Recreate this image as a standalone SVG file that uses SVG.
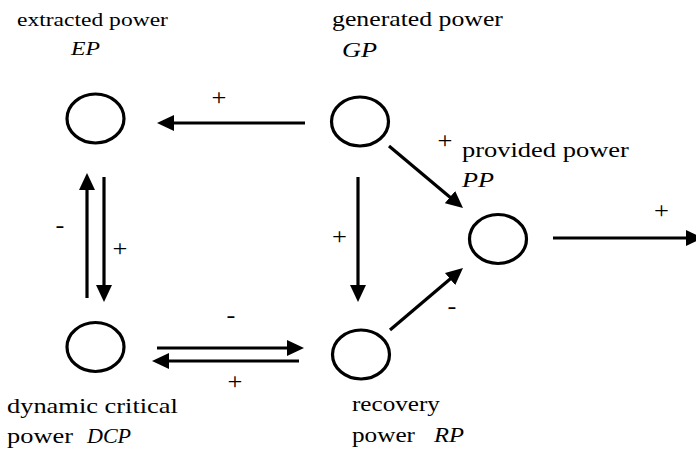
<svg xmlns="http://www.w3.org/2000/svg" width="696" height="450" viewBox="0 0 696 450">
<style>
  .node ellipse { fill: none; stroke: #000; stroke-width: 3.2; }
  text { font-family: "Liberation Serif", "Times New Roman", serif; fill: #000; }
  .it { font-style: italic; }
  .sign { font-size: 24px; text-anchor: middle; }
  #connectors line { stroke: #000; stroke-width: 3.2; marker-end: url(#ah); }
</style>
<defs>
  <marker id="ah" markerUnits="userSpaceOnUse" markerWidth="17" markerHeight="16" viewBox="0 0 17 16" refX="9" refY="8" orient="auto">
    <path d="M0,0 L17,8 L0,16 z" fill="#000"/>
  </marker>
</defs>
<rect width="696" height="450" fill="#fff"/>

<g id="EP" class="node">
  <ellipse cx="95.5" cy="118.5" rx="28.5" ry="24.5"/>
  <text transform="translate(17,26) scale(1.207,1)" font-size="19.5">extracted power</text>
  <text class="it" transform="translate(71,55) scale(1.217,1)" font-size="19.5">EP</text>
</g>
<g id="GP" class="node">
  <ellipse cx="360" cy="121.5" rx="28.5" ry="24.5"/>
  <text transform="translate(332,26) scale(1.227,1)" font-size="21">generated power</text>
  <text class="it" transform="translate(342,57) scale(1.25,1)" font-size="21">GP</text>
</g>
<g id="PP" class="node">
  <ellipse cx="498" cy="239" rx="28.5" ry="24.5"/>
  <text transform="translate(462,157) scale(1.204,1)" font-size="22">provided power</text>
  <text class="it" transform="translate(462,187) scale(1.19,1)" font-size="22">PP</text>
</g>
<g id="DCP" class="node">
  <ellipse cx="95.5" cy="347" rx="28.5" ry="24.5"/>
  <text transform="translate(7,413) scale(1.258,1)" font-size="21">dynamic critical</text>
  <text transform="translate(7,443) scale(1.258,1)" font-size="21">power</text>
  <text class="it" transform="translate(87,443) scale(1.05,1)" font-size="21">DCP</text>
</g>
<g id="RP" class="node">
  <ellipse cx="361" cy="354.5" rx="28.5" ry="24.5"/>
  <text transform="translate(352,411) scale(1.198,1)" font-size="21">recovery</text>
  <text transform="translate(352,442) scale(1.2,1)" font-size="21">power</text>
  <text class="it" transform="translate(434,442) scale(1.17,1)" font-size="21">RP</text>
</g>

<g id="connectors">
  <line x1="305" y1="123" x2="165" y2="123"/>
  <line x1="87" y1="298" x2="87" y2="181"/>
  <line x1="104" y1="177" x2="104" y2="294"/>
  <line x1="157" y1="348" x2="296" y2="348"/>
  <line x1="299" y1="361" x2="160" y2="361"/>
  <line x1="358" y1="177" x2="358" y2="294"/>
  <line x1="389" y1="146" x2="456.9" y2="202.9"/>
  <line x1="390" y1="330" x2="456.9" y2="273.2"/>
  <line x1="553" y1="238" x2="695" y2="238"/>
  <text class="sign" transform="translate(219,104.5) scale(1.1,1)">+</text>
  <text class="sign" transform="translate(60,233.4) scale(1.1,1)">-</text>
  <text class="sign" transform="translate(120,255.5) scale(1.1,1)">+</text>
  <text class="sign" transform="translate(231,323.4) scale(1.1,1)">-</text>
  <text class="sign" transform="translate(235,389) scale(1.1,1)">+</text>
  <text class="sign" transform="translate(339.5,244) scale(1.1,1)">+</text>
  <text class="sign" transform="translate(445,148) scale(1.1,1)">+</text>
  <text class="sign" transform="translate(452,314.4) scale(1.1,1)">-</text>
  <text class="sign" transform="translate(661.5,217.5) scale(1.1,1)">+</text>
</g>
</svg>
